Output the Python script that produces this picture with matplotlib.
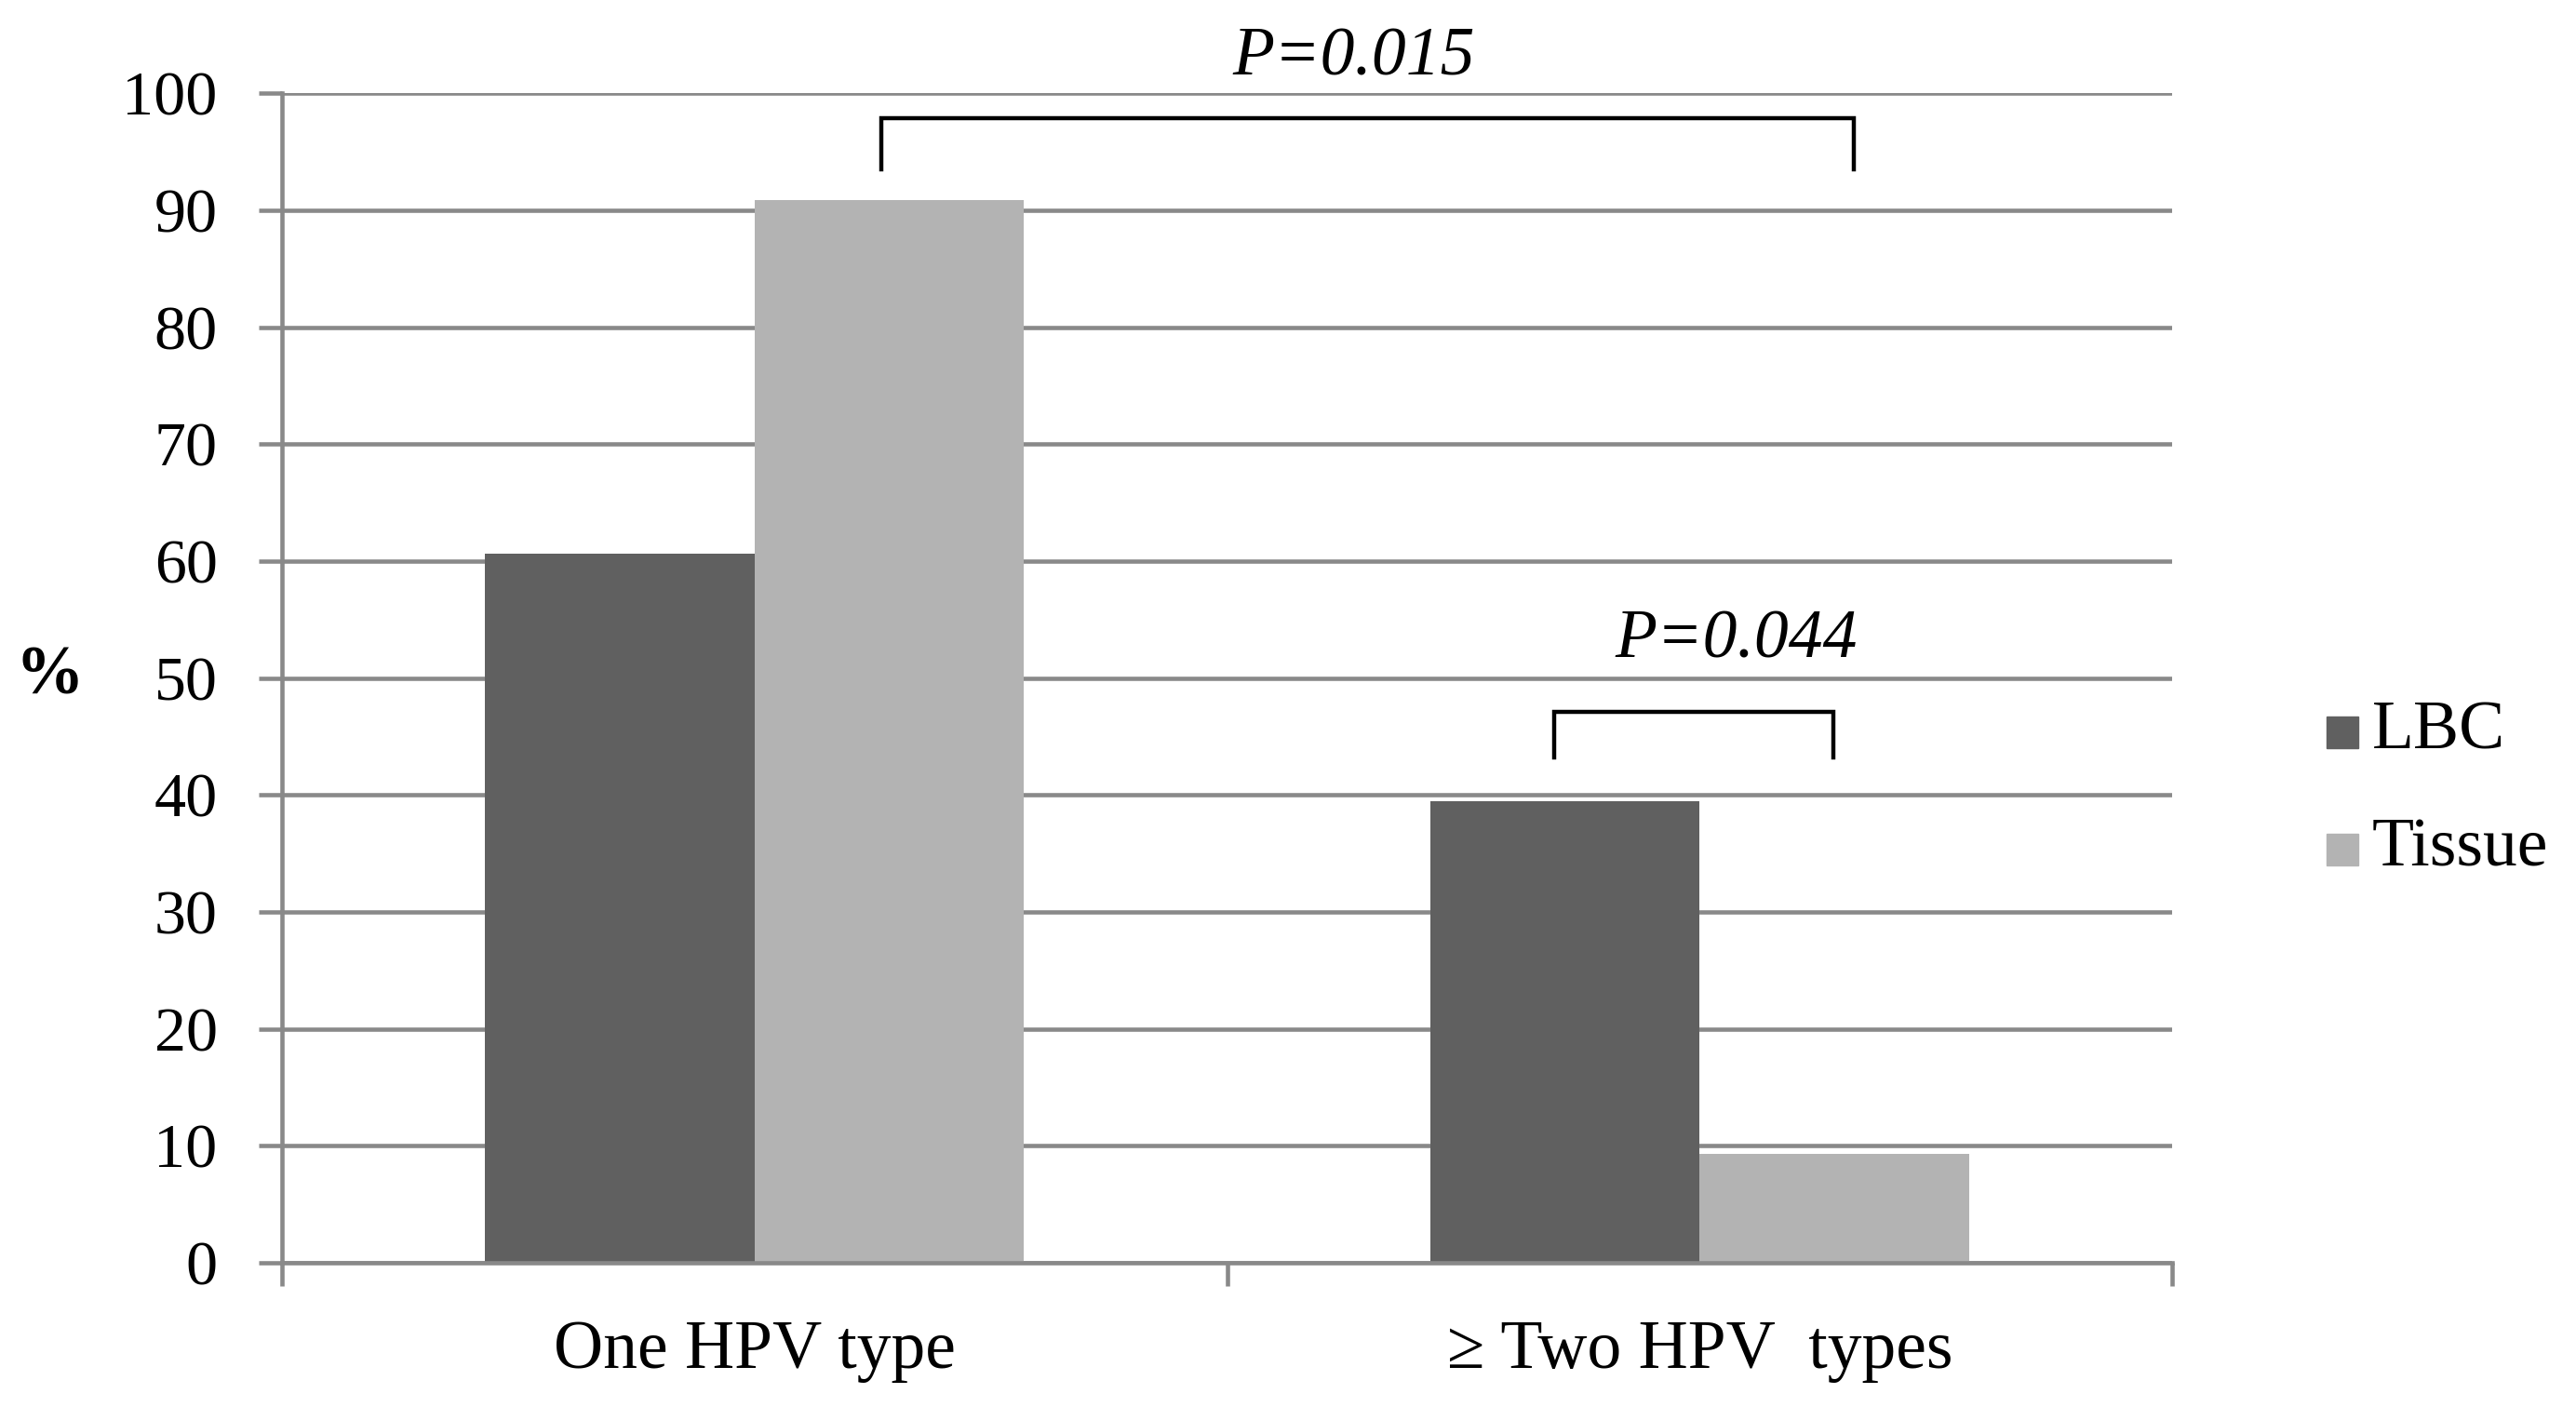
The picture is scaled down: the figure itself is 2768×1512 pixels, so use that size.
import matplotlib
matplotlib.use("Agg")
import matplotlib.pyplot as plt
import numpy as np
from matplotlib.patches import Rectangle

categories = ["One HPV type", "\u2265 Two HPV  types"]
series_names = ["LBC", "Tissue"]
lbc_values = [60.6, 39.5]
tissue_values = [90.9, 9.3]
y_ticks = list(range(0, 101, 10))

# significance brackets: (x_left, x_right, y_top, y_leg, label, label_x, label_y)
brackets = [
    (0.134, 1.163, 97.9, 93.5, "P=0.015", 0.634, 101.6),
    (0.846, 1.142, 47.1, 43.2, "P=0.044", 1.039, 51.8),
]

LBC_COLOR = "#606060"
TISSUE_COLOR = "#b3b3b3"
GRID_COLOR = "#898989"
FONT = "Liberation Serif"
TICK_FS = 49
FS = 53

plt.rcParams["font.family"] = [FONT, "DejaVu Serif"]

fig = plt.figure(figsize=(27.68, 15.12), dpi=100)
ax = fig.add_axes([0.1095, 0.1025, 0.8432 - 0.1095, 0.9337 - 0.1025])

x = np.arange(len(categories))
w = 0.285
ax.bar(x - w / 2, lbc_values, width=w, color=LBC_COLOR, zorder=2)
ax.bar(x + w / 2, tissue_values, width=w, color=TISSUE_COLOR, zorder=2)

ax.set_xlim(-0.5, len(categories) - 0.5)
ax.set_ylim(0, 100)
ax.set_yticks(y_ticks)
ax.set_yticklabels([str(v) for v in y_ticks], fontsize=TICK_FS)
for v in y_ticks:
    ax.axhline(v, color=GRID_COLOR, lw=3.3, zorder=1)

ax.set_xticks(x)
ax.set_xticklabels(categories, fontsize=FS)
ax.set_xticks(np.arange(-0.5, len(categories), 1.0), minor=True)
ax.tick_params(axis="x", which="major", length=0, pad=44)
ax.tick_params(axis="x", which="minor", length=18, width=3.3, color=GRID_COLOR)
ax.tick_params(axis="y", length=18, width=3.3, color=GRID_COLOR, pad=32)

for side in ("top", "right"):
    ax.spines[side].set_visible(False)
ax.spines["left"].set_color(GRID_COLOR)
ax.spines["left"].set_linewidth(3.3)
ax.spines["bottom"].set_color(GRID_COLOR)
ax.spines["bottom"].set_linewidth(3.3)

for xl, xr, yt, yl, label, lx, ly in brackets:
    ax.plot([xl, xl, xr, xr], [yl, yt, yt, yl], color="black", lw=3.2,
            solid_joinstyle="miter", clip_on=False, zorder=3)
    ax.text(lx, ly, label, ha="center", va="baseline", fontsize=FS,
            style="italic", clip_on=False)

fig.text(53 / 2768, 1 - 727 / 1512, "%", ha="center", va="center",
         fontsize=FS, fontweight="bold")

# legend drawn by hand to match placement
leg_colors = [LBC_COLOR, TISSUE_COLOR]
leg_y = [787, 913]
for name, col, yy in zip(series_names, leg_colors, leg_y):
    fig.patches.append(Rectangle((2500 / 2768, 1 - (yy + 17) / 1512), 34 / 2768, 34 / 1512,
                                 transform=fig.transFigure, color=col))
    fig.text(2549 / 2768, 1 - yy / 1512, name, ha="left", va="center", fontsize=FS)

fig.savefig("out.png", dpi=100, facecolor="white")
